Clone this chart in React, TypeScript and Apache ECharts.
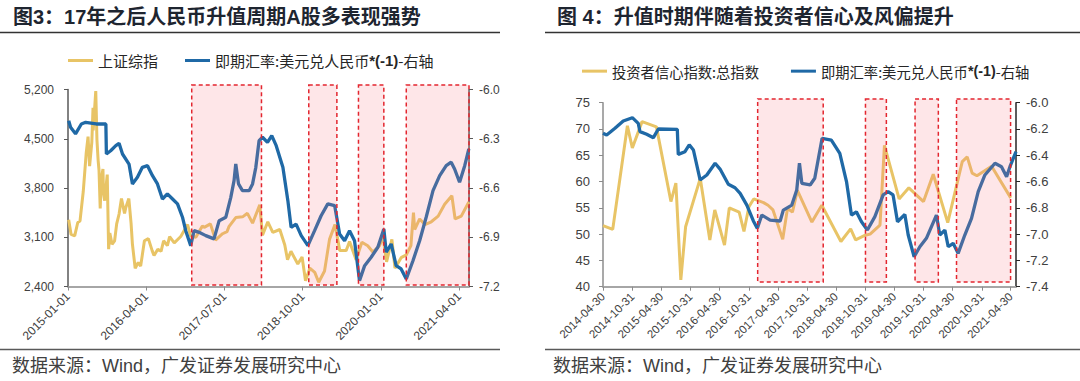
import React, { useEffect, useRef } from 'react';
import * as echarts from 'echarts';

const DAY_MS = 86400000;

// ---------- texts ----------
const leftTitle = '图3：17年之后人民币升值周期A股多表现强势';
const rightTitle = '图 4：升值时期伴随着投资者信心及风偏提升';
const sourceText = '数据来源：Wind，广发证券发展研究中心';
const nameSSE = '上证综指';
const nameFX = '即期汇率:美元兑人民币*(-1)-右轴';
const nameConf = '投资者信心指数:总指数';

// ---------- left chart (图3) ----------
const leftXStart = '2015-01-01';
const leftXEnd = '2021-05-29';
const leftXTicks = ['2015-01-01', '2016-04-01', '2017-07-01', '2018-10-01', '2020-01-01', '2021-04-01'];
const leftYTicks = [2400, 3100, 3800, 4500, 5200];
const leftY2Ticks = [-7.2, -6.9, -6.6, -6.3, -6.0];

const sseDates = [
  '2015-01-05', '2015-01-19', '2015-02-09', '2015-02-27', '2015-03-12', '2015-03-31', '2015-04-17', '2015-04-28',
  '2015-05-07', '2015-05-20', '2015-05-27', '2015-05-28', '2015-06-12', '2015-06-19', '2015-06-26', '2015-07-01',
  '2015-07-08', '2015-07-14', '2015-07-24', '2015-07-27', '2015-08-03', '2015-08-18', '2015-08-26', '2015-09-02',
  '2015-09-15', '2015-09-30', '2015-10-12', '2015-10-26', '2015-11-09', '2015-11-27', '2015-12-04', '2015-12-22',
  '2016-01-04', '2016-01-12', '2016-01-28', '2016-02-15', '2016-02-29', '2016-03-22', '2016-04-14', '2016-05-06',
  '2016-05-17', '2016-06-08', '2016-06-27', '2016-07-12', '2016-08-03', '2016-08-16', '2016-09-12', '2016-10-20',
  '2016-11-29', '2016-12-16', '2017-01-16', '2017-02-23', '2017-03-06', '2017-04-11', '2017-05-11', '2017-06-21',
  '2017-07-17', '2017-07-28', '2017-09-06', '2017-10-16', '2017-11-13', '2017-12-13', '2018-01-24', '2018-02-09',
  '2018-03-12', '2018-04-10', '2018-05-21', '2018-06-19', '2018-07-05', '2018-07-25', '2018-09-03', '2018-09-28',
  '2018-10-18', '2018-11-12', '2018-12-11', '2019-01-03', '2019-02-06', '2019-03-07', '2019-04-08', '2019-05-06',
  '2019-06-12', '2019-07-02', '2019-08-09', '2019-09-12', '2019-10-16', '2019-11-15', '2019-12-24', '2020-01-13',
  '2020-02-03', '2020-03-05', '2020-03-23', '2020-04-28', '2020-05-28', '2020-06-24', '2020-07-09', '2020-07-16',
  '2020-08-14', '2020-09-14', '2020-10-21', '2020-11-30', '2021-01-07', '2021-02-18', '2021-03-09', '2021-04-14',
  '2021-05-28',
];
const sseValues = [
  3350, 3140, 3120, 3310, 3330, 3750, 4290, 4530,
  4110, 4450, 4940, 4620, 5178, 4480, 4190, 4050,
  3510, 3920, 4070, 3730, 3620, 3990, 2930, 3160,
  3000, 3050, 3290, 3430, 3650, 3440, 3520, 3650,
  3300, 3000, 2660, 2740, 2690, 3050, 3080, 2910,
  2840, 2930, 2900, 3050, 2980, 3110, 3020, 3110,
  3280, 3120, 3100, 3260, 3240, 3290, 3060, 3150,
  3180, 3250, 3380, 3390, 3440, 3300, 3560, 3130,
  3320, 3170, 3210, 2990, 2780, 2900, 2720, 2820,
  2480, 2660, 2600, 2460, 2620, 3070, 3280, 2910,
  2910, 3040, 2780, 3030, 2980, 2890, 2980, 3110,
  2750, 3070, 2660, 2810, 2850, 2980, 3450, 3210,
  3360, 3280, 3320, 3400, 3570, 3690, 3360, 3400,
  3600,
];

const fxLeftDates = [
  '2015-01-05', '2015-01-16', '2015-02-14', '2015-03-20', '2015-04-14', '2015-05-15', '2015-06-15', '2015-07-15',
  '2015-08-10', '2015-08-13', '2015-09-07', '2015-10-07', '2015-10-26', '2015-11-15', '2015-12-23', '2016-01-12',
  '2016-02-10', '2016-03-10', '2016-04-09', '2016-05-08', '2016-06-06', '2016-07-05', '2016-08-03', '2016-09-02',
  '2016-10-01', '2016-10-30', '2016-11-18', '2016-12-17', '2017-01-06', '2017-02-04', '2017-03-15', '2017-05-02',
  '2017-06-01', '2017-07-10', '2017-08-08', '2017-08-27', '2017-09-06', '2017-09-22', '2017-10-15', '2017-11-23',
  '2017-12-13', '2018-01-01', '2018-01-20', '2018-02-09', '2018-03-10', '2018-04-04', '2018-04-30', '2018-06-08',
  '2018-07-07', '2018-07-26', '2018-08-24', '2018-09-23', '2018-11-01', '2018-12-10', '2019-01-17', '2019-02-25',
  '2019-04-06', '2019-05-05', '2019-06-03', '2019-07-02', '2019-07-31', '2019-08-29', '2019-09-28', '2019-11-05',
  '2019-12-14', '2020-01-18', '2020-02-01', '2020-03-01', '2020-03-30', '2020-04-28', '2020-05-28', '2020-07-06',
  '2020-08-14', '2020-09-21', '2020-10-31', '2020-12-09', '2021-01-16', '2021-02-14', '2021-03-06', '2021-04-04',
  '2021-05-04', '2021-05-28',
];
const fxLeftValues = [
  -6.19, -6.23, -6.27, -6.21, -6.2, -6.205, -6.21, -6.21,
  -6.21, -6.393, -6.373, -6.342, -6.328, -6.393, -6.454, -6.575,
  -6.535, -6.474, -6.464, -6.525, -6.575, -6.667, -6.636, -6.667,
  -6.697, -6.778, -6.86, -6.951, -6.86, -6.87, -6.89, -6.91,
  -6.799, -6.778, -6.657, -6.555, -6.454, -6.575, -6.616, -6.616,
  -6.575, -6.474, -6.312, -6.291, -6.322, -6.281, -6.342, -6.474,
  -6.677, -6.84, -6.82, -6.89, -6.951, -6.86, -6.769, -6.697,
  -6.707, -6.88, -6.921, -6.86, -6.921, -7.164, -7.073, -7.022,
  -6.961, -6.85, -6.991, -6.941, -7.073, -7.093, -7.154, -7.043,
  -6.921, -6.778, -6.616, -6.525, -6.464, -6.443, -6.484, -6.565,
  -6.464, -6.362,
];

const leftPeriods = [
  ['2016-12-23', '2018-02-03'],
  ['2018-11-06', '2019-04-19'],
  ['2019-08-23', '2020-01-18'],
  ['2020-05-28', '2021-05-29'],
];

// ---------- right chart (图4) ----------
const rightXStart = '2014-04-30';
const rightXEnd = '2021-06-02';
const rightXTicks = [
  '2014-04-30', '2014-10-31', '2015-04-30', '2015-10-31', '2016-04-30', '2016-10-31', '2017-04-30', '2017-10-31',
  '2018-04-30', '2018-10-31', '2019-04-30', '2019-10-31', '2020-04-30', '2020-10-31', '2021-04-30',
];
const rightYTicks = [40, 45, 50, 55, 60, 65, 70, 75];
const rightY2Ticks = [-7.4, -7.2, -7.0, -6.8, -6.6, -6.4, -6.2, -6.0];

const confDates = [
  '2014-04-30', '2014-06-30', '2014-09-30', '2014-10-31', '2014-12-31', '2015-03-31', '2015-06-30', '2015-07-31',
  '2015-08-31', '2015-09-30', '2015-12-31', '2016-02-29', '2016-03-31', '2016-05-31', '2016-06-30', '2016-08-31',
  '2016-09-30', '2016-10-31', '2016-11-30', '2017-01-31', '2017-02-28', '2017-03-31', '2017-05-31', '2017-06-30',
  '2017-07-31', '2017-08-31', '2017-11-30', '2018-01-31', '2018-05-31', '2018-07-31', '2018-08-31', '2018-10-31',
  '2018-11-30', '2019-01-31', '2019-02-28', '2019-05-31', '2019-07-31', '2019-10-31', '2019-12-31', '2020-03-31',
  '2020-06-30', '2020-07-31', '2020-08-31', '2020-09-30', '2020-12-31', '2021-04-30',
];
const confValues = [
  51.6, 50.9, 70.6, 66.4, 71.4, 70.4, 56.2, 59.7,
  41.3, 51.4, 60.6, 48.9, 54.6, 47.9, 55.0, 54.2,
  50.5, 55.2, 56.7, 56.0, 55.5, 54.6, 49.0, 54.9,
  54.2, 58.3, 52.3, 55.5, 48.6, 51.0, 48.9, 49.8,
  50.0, 51.7, 66.9, 56.7, 58.8, 56.2, 61.4, 52.2,
  63.8, 64.7, 61.6, 61.1, 62.9, 56.9,
];

const fxRightDates = [
  '2014-04-30', '2014-05-23', '2014-07-14', '2014-09-04', '2014-10-31', '2014-12-07', '2014-12-18', '2015-01-29',
  '2015-03-12', '2015-04-12', '2015-08-09', '2015-08-15', '2015-09-26', '2015-10-23', '2015-11-18', '2015-12-30',
  '2016-02-10', '2016-04-02', '2016-05-03', '2016-06-24', '2016-08-05', '2016-09-06', '2016-10-18', '2016-11-28',
  '2016-12-23', '2017-01-20', '2017-03-13', '2017-05-15', '2017-06-04', '2017-07-27', '2017-08-27', '2017-09-13',
  '2017-09-28', '2017-11-19', '2017-12-18', '2018-02-02', '2018-04-01', '2018-05-24', '2018-07-05', '2018-08-05',
  '2018-09-05', '2018-10-07', '2018-11-13', '2018-12-30', '2019-02-20', '2019-03-23', '2019-04-23', '2019-05-21',
  '2019-07-06', '2019-07-27', '2019-09-02', '2019-10-08', '2019-11-18', '2020-01-20', '2020-02-10', '2020-03-13',
  '2020-04-03', '2020-05-04', '2020-06-04', '2020-07-16', '2020-08-27', '2020-10-08', '2020-11-19', '2021-01-21',
  '2021-03-03', '2021-04-04', '2021-04-25', '2021-06-02',
];
const fxRightValues = [
  -6.233, -6.246, -6.195, -6.139, -6.114, -6.157, -6.22, -6.24,
  -6.266, -6.2, -6.203, -6.393, -6.373, -6.32, -6.36, -6.588,
  -6.55, -6.461, -6.505, -6.621, -6.647, -6.69, -6.779, -6.9,
  -6.956, -6.855, -6.893, -6.9, -6.817, -6.779, -6.664, -6.461,
  -6.613, -6.626, -6.575, -6.271, -6.284, -6.385, -6.6, -6.855,
  -6.83, -6.906, -6.969, -6.867, -6.702, -6.677, -6.702, -6.906,
  -6.85, -7.007, -7.172, -7.096, -7.032, -6.855, -7.007, -6.969,
  -7.096, -7.07, -7.146, -7.007, -6.88, -6.677, -6.55, -6.461,
  -6.487, -6.563, -6.487, -6.373,
];

const rightPeriods = [
  ['2016-12-25', '2018-02-09'],
  ['2018-11-01', '2019-03-12'],
  ['2019-09-08', '2020-02-01'],
  ['2020-05-25', '2021-04-29'],
];

// ---------- helpers ----------
const dayOf = (base: string) => (d: string) => (Date.parse(d) - Date.parse(base)) / DAY_MS;
const leftDay = dayOf(leftXStart);
const rightDay = dayOf(rightXStart);
const fmtDay = (base: string) => (v: number) =>
  new Date(Date.parse(base) + Math.round(v) * DAY_MS).toISOString().slice(0, 10);

const BLUE = '#1f69a6';
const GOLD = '#e8c466';
const LATIN = '"Liberation Sans", "Noto Sans CJK SC", sans-serif';
const CJK = '"Noto Sans CJK SC", "Liberation Sans", sans-serif';

const pinkArea = (periods: string[][], toDay: (d: string) => number, yTop: number, yBottom: number) => ({
  silent: true,
  z: 5,
  itemStyle: {
    color: 'rgba(248, 120, 132, 0.19)',
    borderColor: '#e3262f',
    borderWidth: 1.5,
    borderType: [4, 3],
  },
  label: { show: false },
  data: periods.map(([a, b]) => [
    { xAxis: toDay(a), y: yTop },
    { xAxis: toDay(b), y: yBottom },
  ]),
});

const xAxisBase = (customTicks: number[], min: number, max: number, fmt: (v: number) => string, grid: number, fs: number) => ({
  type: 'value',
  gridIndex: grid,
  min,
  max,
  axisLine: { show: true, onZero: false, lineStyle: { color: '#a6a6a6', width: 2 } },
  axisTick: { show: true, customValues: customTicks, length: 4, lineStyle: { color: '#8c8c8c', width: 1 } },
  axisLabel: {
    show: true,
    customValues: customTicks,
    rotate: 45,
    margin: 8,
    fontSize: fs,
    color: '#404040',
    fontFamily: LATIN,
    formatter: fmt,
  },
  splitLine: { show: false },
});

const yAxisBase = (
  grid: number,
  pos: 'left' | 'right',
  min: number,
  max: number,
  ticks: number[],
  fmt: (v: number) => string,
  lineColor: string,
  margin: number,
  fs: number,
) => ({
  type: 'value',
  gridIndex: grid,
  position: pos,
  min,
  max,
  axisLine: { show: true, onZero: false, lineStyle: { color: lineColor, width: 1.5 } },
  axisTick: { show: true, customValues: ticks, length: 4, lineStyle: { color: lineColor, width: 1 } },
  axisLabel: { show: true, customValues: ticks, margin, fontSize: fs, color: '#404040', fontFamily: LATIN, formatter: fmt },
  splitLine: { show: false },
});

const legendBase = (left: number, top: number, gap: number, fs: number, data: string[]) => ({
  left,
  top,
  padding: 0,
  icon: 'rect',
  itemWidth: 25,
  itemHeight: 3,
  itemGap: gap,
  selectedMode: false,
  formatter: (name: string) => name.replace('*(-1)', '{b|*(-1)}'),
  textStyle: {
    fontSize: fs,
    color: '#262626',
    fontFamily: CJK,
    rich: { b: { fontSize: fs, fontWeight: 'bold', fontFamily: LATIN, color: '#262626' } },
  },
  data,
});

export default function App() {
  const ref = useRef<HTMLDivElement>(null);

  useEffect(() => {
    if (!ref.current) return;
    const chart = echarts.init(ref.current, undefined, { renderer: 'svg' });

    const leftXTickDays = leftXTicks.map(leftDay);
    const rightXTickDays = rightXTicks.map(rightDay);

    const option: any = {
      animation: false,
      backgroundColor: '#ffffff',
      grid: [
        { left: 68, top: 89.5, width: 401, height: 197, containLabel: false, outerBoundsMode: 'none' },
        { left: 603, top: 102.7, width: 413, height: 184, containLabel: false, outerBoundsMode: 'none' },
      ],
      legend: [
        legendBase(68, 53, 27, 15, [nameSSE, nameFX]),
        legendBase(582, 64, 32, 14.3, [nameConf, nameFX]),
      ],
      xAxis: [
        xAxisBase(leftXTickDays, 0, leftDay(leftXEnd), fmtDay(leftXStart), 0, 12),
        xAxisBase(rightXTickDays, 0, rightDay(rightXEnd), fmtDay(rightXStart), 1, 11.5),
      ],
      yAxis: [
        yAxisBase(0, 'left', leftYTicks[0], leftYTicks[leftYTicks.length - 1], leftYTicks,
          (v: number) => v.toLocaleString('en-US'), '#595959', 14, 12),
        yAxisBase(0, 'right', leftY2Ticks[0], leftY2Ticks[leftY2Ticks.length - 1], leftY2Ticks,
          (v: number) => v.toFixed(1), '#595959', 10, 12),
        yAxisBase(1, 'left', rightYTicks[0], rightYTicks[rightYTicks.length - 1], rightYTicks,
          (v: number) => String(v), '#8c8c8c', 13, 13),
        yAxisBase(1, 'right', rightY2Ticks[0], rightY2Ticks[rightY2Ticks.length - 1], rightY2Ticks,
          (v: number) => v.toFixed(1), '#262626', 10, 13),
      ],
      series: [
        {
          name: nameSSE,
          type: 'line',
          xAxisIndex: 0,
          yAxisIndex: 0,
          color: GOLD,
          showSymbol: false,
          symbol: 'none',
          lineStyle: { color: GOLD, width: 3 },
          data: sseDates.map((d, i) => [leftDay(d), sseValues[i]]),
          z: 2,
        },
        {
          name: nameFX,
          type: 'line',
          xAxisIndex: 0,
          yAxisIndex: 1,
          color: BLUE,
          showSymbol: false,
          symbol: 'none',
          lineStyle: { color: BLUE, width: 3.3 },
          data: fxLeftDates.map((d, i) => [leftDay(d), fxLeftValues[i]]),
          z: 3,
          markArea: pinkArea(leftPeriods, leftDay, 85, 285),
        },
        {
          name: nameConf,
          type: 'line',
          xAxisIndex: 1,
          yAxisIndex: 2,
          color: GOLD,
          showSymbol: false,
          symbol: 'none',
          lineStyle: { color: GOLD, width: 3 },
          data: confDates.map((d, i) => [rightDay(d), confValues[i]]),
          z: 2,
        },
        {
          name: nameFX,
          type: 'line',
          xAxisIndex: 1,
          yAxisIndex: 3,
          color: BLUE,
          showSymbol: false,
          symbol: 'none',
          lineStyle: { color: BLUE, width: 3.3 },
          data: fxRightDates.map((d, i) => [rightDay(d), fxRightValues[i]]),
          z: 3,
          markArea: pinkArea(rightPeriods, rightDay, 99, 282),
        },
      ],
      graphic: [
        {
          type: 'text',
          x: 13,
          y: 17,
          style: { text: leftTitle, font: `bold 20px ${LATIN}`, fill: '#1e2530', verticalAlign: 'middle' },
        },
        {
          type: 'text',
          x: 557,
          y: 17,
          style: { text: rightTitle, font: `bold 20px ${LATIN}`, fill: '#1e2530', verticalAlign: 'middle' },
        },
        { type: 'line', shape: { x1: 0, y1: 32.5, x2: 500, y2: 32.5 }, style: { stroke: '#333333', lineWidth: 1.5 } },
        { type: 'line', shape: { x1: 545, y1: 32.5, x2: 1080, y2: 32.5 }, style: { stroke: '#333333', lineWidth: 1.5 } },
        { type: 'line', shape: { x1: 0, y1: 349.5, x2: 500, y2: 349.5 }, style: { stroke: '#595959', lineWidth: 1.5 } },
        { type: 'line', shape: { x1: 545, y1: 349.5, x2: 1080, y2: 349.5 }, style: { stroke: '#595959', lineWidth: 1.5 } },
        {
          type: 'text',
          x: 12,
          y: 366,
          style: { text: sourceText, font: `18px ${LATIN}`, fill: '#404040', verticalAlign: 'middle' },
        },
        {
          type: 'text',
          x: 553,
          y: 366,
          style: { text: sourceText, font: `18px ${LATIN}`, fill: '#404040', verticalAlign: 'middle' },
        },
      ],
    };

    chart.setOption(option);
    return () => {
      chart.dispose();
    };
  }, []);

  return (
    <div
      ref={ref}
      style={{ position: 'absolute', left: 0, top: 0, width: 1080, height: 381, background: '#ffffff' }}
    />
  );
}
